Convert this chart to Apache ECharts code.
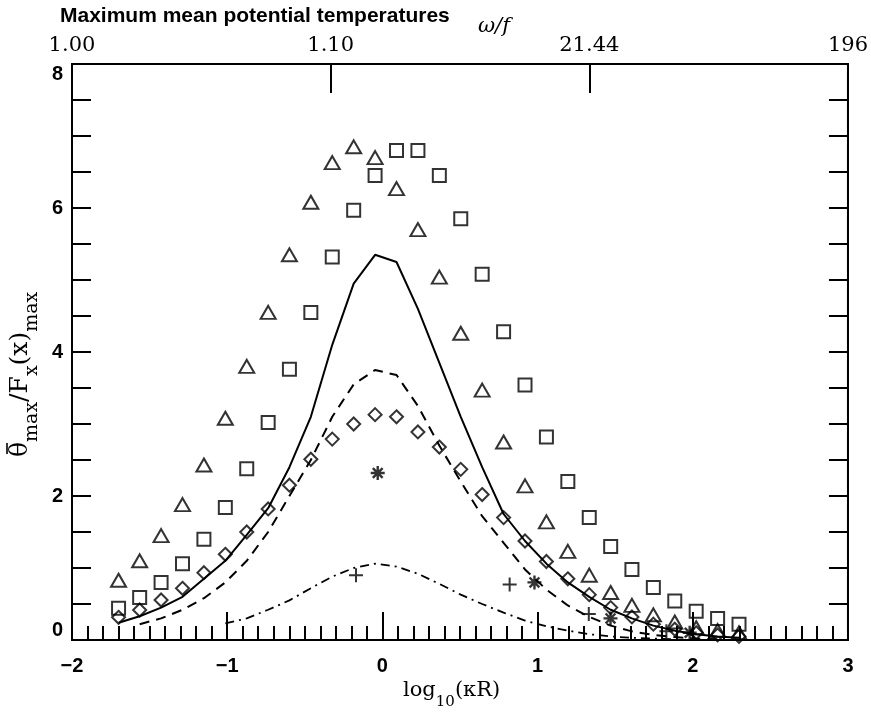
<!DOCTYPE html>
<html>
<head>
<meta charset="utf-8">
<script src="https://cdn.jsdelivr.net/npm/echarts@6/dist/echarts.min.js"></script>
<style>
  html, body { margin: 0; padding: 0; background: #fff; }
  #chart { width: 871px; height: 717px; }
</style>
</head>
<body>
<div id="chart"></div>
<script>
// log10(kR) grid shared by every series
const logKR = [-1.70, -1.564, -1.426, -1.288, -1.150, -1.012, -0.874, -0.736, -0.599, -0.461,
               -0.323, -0.185, -0.047, 0.091, 0.229, 0.367, 0.505, 0.643, 0.781, 0.919,
               1.057, 1.195, 1.333, 1.471, 1.608, 1.746, 1.884, 2.022, 2.160, 2.298];

const triangles = [0.83, 1.10, 1.45, 1.88, 2.43, 3.08, 3.80, 4.55, 5.35, 6.08,
                   6.63, 6.85, 6.70, 6.27, 5.70, 5.04, 4.26, 3.47, 2.75, 2.14,
                   1.64, 1.23, 0.90, 0.66, 0.48, 0.35, 0.25, 0.17, 0.13, 0.10];
const squares = [0.44, 0.59, 0.80, 1.06, 1.40, 1.84, 2.38, 3.02, 3.76, 4.55,
                 5.32, 5.97, 6.45, 6.80, 6.80, 6.45, 5.85, 5.08, 4.28, 3.54,
                 2.82, 2.20, 1.70, 1.30, 0.98, 0.73, 0.54, 0.40, 0.30, 0.22];
const diamonds = [0.315, 0.417, 0.556, 0.718, 0.935, 1.19, 1.50, 1.82, 2.15, 2.51,
                  2.79, 3.00, 3.13, 3.10, 2.89, 2.68, 2.37, 2.02, 1.70, 1.375,
                  1.09, 0.85, 0.63, 0.45, 0.32, 0.22, 0.15, 0.10, 0.07, 0.05];

const solid = [0.24, 0.33, 0.45, 0.60, 0.85, 1.10, 1.46, 1.83, 2.40, 3.10,
               4.10, 4.95, 5.35, 5.25, 4.60, 3.85, 3.10, 2.40, 1.75, 1.375,
               1.06, 0.80, 0.60, 0.42, 0.30, 0.20, 0.13, 0.08, 0.05, 0.03];
const dashed = [null, 0.22, 0.30, 0.42, 0.58, 0.80, 1.10, 1.50, 2.00, 2.50,
                3.10, 3.55, 3.75, 3.68, 3.25, 2.70, 2.20, 1.72, 1.35, 0.98,
                0.70, 0.48, 0.32, 0.20, 0.12, 0.07, 0.04, 0.02, 0.01, null];
const dashDot = [null, null, null, null, null, 0.23, 0.30, 0.42, 0.55, 0.72,
                 0.88, 1.00, 1.06, 1.02, 0.92, 0.78, 0.63, 0.50, 0.38, 0.27,
                 0.19, 0.13, 0.08, 0.05, 0.03, 0.02, 0.01, null, null, null];

const starX = [-0.03, 0.98, 1.47, 1.98];
const starY = [2.32, 0.80, 0.30, 0.10];
const plusX = [-0.17, 0.82, 1.33, 1.83];
const plusY = [0.90, 0.77, 0.36, 0.12];

const topLabels = ['1.00', '1.10', '21.44', '196'];

const pairs = (xs, ys) => xs.map((x, i) => [x, ys[i]]);

const asterisk = 'path://M5,0L5,10M0,5L10,5M1.5,1.5L8.5,8.5M1.5,8.5L8.5,1.5';
const plus = 'path://M5,0L5,10M0,5L10,5';

const hollow = { color: 'rgba(0,0,0,0)', borderColor: '#000', borderWidth: 2 };
const blackLine = { color: '#000', width: 2 };

var myChart = echarts.init(document.getElementById('chart'));

let option = {
    backgroundColor: '#fff',
    animation: false,
    grid: {
        left: 72, right: 22, top: 64, bottom: 77,
        show: true, borderColor: '#000', borderWidth: 2
    },
    xAxis: [{
        type: 'value', min: -2, max: 3, interval: 1,
        axisLine: { onZero: false, lineStyle: blackLine },
        axisTick: { inside: true, length: 28, lineStyle: blackLine },
        minorTick: { show: true, splitNumber: 10, length: 14, lineStyle: blackLine },
        splitLine: { show: false },
        axisLabel: {
            color: '#000', fontSize: 20, fontFamily: 'Liberation Sans', fontWeight: 'bold', margin: 16,
            formatter: v => String(v).replace('-', '\u2212')
        }
    }, {
        type: 'value', min: 0, max: 3, interval: 1, position: 'top',
        axisLine: { onZero: false, lineStyle: blackLine },
        axisTick: { inside: true, length: 29, lineStyle: blackLine },
        splitLine: { show: false },
        axisLabel: {
            color: '#000', fontSize: 21, fontFamily: 'DejaVu Serif', margin: 8,
            formatter: v => topLabels[Math.round(v)]
        }
    }],
    yAxis: [{
        type: 'value', min: 0, max: 8, interval: 2,
        axisLine: { onZero: false, lineStyle: blackLine },
        axisTick: { inside: true, length: 19, lineStyle: blackLine },
        minorTick: { show: true, splitNumber: 4, length: 19, lineStyle: blackLine },
        splitLine: { show: false },
        axisLabel: {
            color: '#000', fontSize: 20, fontFamily: 'Liberation Sans', fontWeight: 'bold', margin: 9,
            verticalAlignMinLabel: 'bottom', verticalAlignMaxLabel: 'top'
        }
    }, {
        type: 'value', min: 0, max: 8, interval: 2, position: 'right',
        axisLine: { onZero: false, lineStyle: blackLine },
        axisTick: { inside: true, length: 19, lineStyle: blackLine },
        minorTick: { show: true, splitNumber: 4, length: 19, lineStyle: blackLine },
        splitLine: { show: false },
        axisLabel: { show: false }
    }],
    graphic: [{
        type: 'text', left: 60, top: 6,
        style: { text: 'Maximum mean potential temperatures', font: 'bold 21px "Liberation Sans"', fill: '#000' }
    }, {
        type: 'text', left: 478, top: 16,
        style: { text: 'ω/f', font: 'italic 21px "DejaVu Serif"', fill: '#000' }
    }, {
        type: 'text', left: 403, top: 680,
        style: {
            text: '{b|log}{s|10}{b|(κR)}',
            rich: {
                b: { fontSize: 21, fontFamily: 'DejaVu Serif', lineHeight: 30, verticalAlign: 'top', fill: '#000' },
                s: { fontSize: 15, fontFamily: 'DejaVu Serif', lineHeight: 15, verticalAlign: 'bottom', fill: '#000' }
            }
        }
    }, {
        type: 'text', x: 8, y: 457, rotation: Math.PI / 2,
        style: {
            text: '{b|θ}{s|max}{b|/F}{s|x}{b|(x)}{s|max}',
            rich: {
                b: { fontSize: 25, fontFamily: 'DejaVu Serif', lineHeight: 34, verticalAlign: 'top', fill: '#000' },
                s: { fontSize: 19, fontFamily: 'DejaVu Serif', lineHeight: 19, verticalAlign: 'bottom', fill: '#000' }
            }
        }
    }, {
        // bar over theta
        type: 'line', shape: { x1: 7, y1: 443, x2: 7, y2: 454 },
        style: { stroke: '#000', lineWidth: 1.6 }
    }],
    series: [{
        name: 'solid', type: 'line', data: pairs(logKR, solid), showSymbol: false,
        lineStyle: { color: '#000', width: 2, type: 'solid' }
    }, {
        name: 'dashed', type: 'line', data: pairs(logKR, dashed), showSymbol: false,
        lineStyle: { color: '#000', width: 2, type: [10, 7] }
    }, {
        name: 'dashdot', type: 'line', data: pairs(logKR, dashDot), showSymbol: false,
        lineStyle: { color: '#000', width: 1.8, type: [9, 5, 2, 5] }
    }, {
        name: 'triangles', type: 'scatter', data: pairs(logKR, triangles),
        symbol: 'triangle', symbolSize: [15, 13], itemStyle: hollow
    }, {
        name: 'squares', type: 'scatter', data: pairs(logKR, squares),
        symbol: 'rect', symbolSize: 13, itemStyle: hollow
    }, {
        name: 'diamonds', type: 'scatter', data: pairs(logKR, diamonds),
        symbol: 'diamond', symbolSize: 13, itemStyle: hollow
    }, {
        name: 'stars', type: 'scatter', data: pairs(starX, starY),
        symbol: asterisk, symbolSize: 14, itemStyle: { color: 'rgba(0,0,0,0)', borderColor: '#000', borderWidth: 2.4 }
    }, {
        name: 'plus', type: 'scatter', data: pairs(plusX, plusY),
        symbol: plus, symbolSize: 14, itemStyle: hollow
    }]
};

myChart.setOption(option);
</script>
</body>
</html>
